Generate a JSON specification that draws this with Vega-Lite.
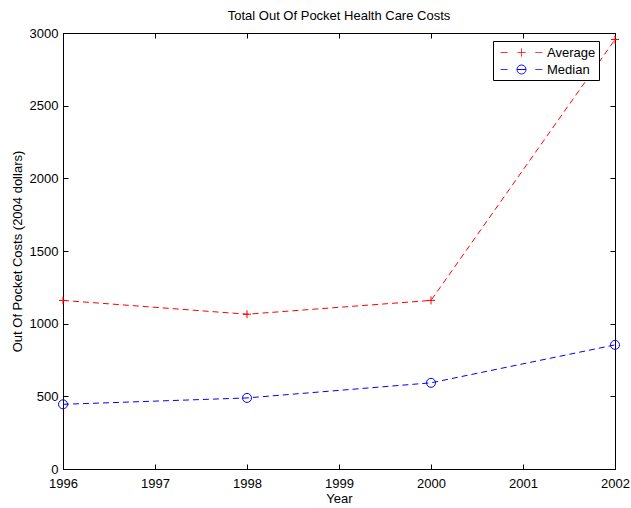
{
  "$schema": "https://vega.github.io/schema/vega-lite/v6.json",
  "width": 552,
  "height": 436,
  "autosize": "none",
  "padding": {"left": 63, "top": 33, "right": 16, "bottom": 39},
  "background": "white",
  "config": {
    "font": "Liberation Sans",
    "view": {"stroke": "black", "strokeWidth": 1},
    "axis": {
      "grid": false,
      "domainColor": "black",
      "tickColor": "black",
      "labelColor": "black",
      "titleColor": "black",
      "labelFontSize": 13,
      "titleFontSize": 13,
      "titleFontWeight": "normal",
      "labelFont": "Liberation Sans",
      "titleFont": "Liberation Sans",
      "labelFlush": false,
      "tickSize": -5
    }
  },
  "title": {
    "text": "Total Out Of Pocket Health Care Costs",
    "fontSize": 13,
    "fontWeight": "normal",
    "font": "Liberation Sans",
    "color": "black",
    "offset": 4
  },
  "data": {
    "values": [
      {"year": 1996, "series": "Average", "cost": 1160},
      {"year": 1998, "series": "Average", "cost": 1065},
      {"year": 2000, "series": "Average", "cost": 1160},
      {"year": 2002, "series": "Average", "cost": 2955},
      {"year": 1996, "series": "Median", "cost": 445},
      {"year": 1998, "series": "Median", "cost": 489},
      {"year": 2000, "series": "Median", "cost": 593},
      {"year": 2002, "series": "Median", "cost": 854}
    ]
  },
  "layer": [
    {
      "mark": {"type": "line", "strokeDash": [6, 4], "strokeWidth": 1},
      "encoding": {
        "x": {
          "field": "year", "type": "quantitative",
          "scale": {"domain": [1996, 2002], "nice": false, "zero": false},
          "axis": {"orient": "bottom", "values": [1996, 1997, 1998, 1999, 2000, 2001, 2002], "format": "d", "title": "Year", "labelPadding": 13, "titlePadding": 2}
        },
        "y": {
          "field": "cost", "type": "quantitative",
          "scale": {"domain": [0, 3000], "nice": false},
          "axis": {"orient": "left", "values": [0, 500, 1000, 1500, 2000, 2500, 3000], "format": "d", "title": "Out Of Pocket Costs (2004 dollars)", "labelPadding": 10, "titlePadding": 5}
        },
        "color": {
          "field": "series", "type": "nominal",
          "scale": {"domain": ["Average", "Median"], "range": ["#ff0000", "#0000ff"]},
          "legend": {
            "title": null,
            "orient": "none",
            "legendX": 430,
            "legendY": 8,
            "strokeColor": "black",
            "fillColor": "white",
            "padding": 3,
            "labelFontSize": 13,
            "labelFont": "Liberation Sans",
            "labelColor": "black",
            "symbolSize": 256,
            "symbolOffset": 17,
            "labelOffset": 17,
            "rowPadding": 1,
            "encode": {
              "symbols": {
                "update": {
                  "shape": {"signal": "datum.value === 'Average' ? 'M-2.6,0H-1.75M-0.5,0H0.5M0,-0.5V0.5M1.75,0H2.6' : 'M-2.6,0H-1.75M0.56,0A0.56,0.56 0 1,1 -0.56,0A0.56,0.56 0 1,1 0.56,0M-0.56,0H0.56M1.75,0H2.6'"},
                  "stroke": {"scale": "color", "field": "value"},
                  "fill": {"value": "transparent"},
                  "strokeWidth": {"value": 1},
                  "strokeDash": {"value": [1, 0]},
                  "opacity": {"value": 1},
                  "strokeOpacity": {"value": 1}
                }
              }
            }
          }
        }
      }
    },
    {
      "transform": [{"filter": "datum.series === 'Average'"}],
      "mark": {"type": "point", "filled": false, "strokeWidth": 1, "size": 64, "opacity": 1, "shape": "M-1,0H1M0,-1V1"},
      "encoding": {
        "x": {
          "field": "year", "type": "quantitative",
          "axis": {"orient": "top", "values": [1996, 1997, 1998, 1999, 2000, 2001, 2002], "labels": false, "title": null}
        },
        "y": {
          "field": "cost", "type": "quantitative",
          "axis": {"orient": "right", "values": [0, 500, 1000, 1500, 2000, 2500, 3000], "labels": false, "title": null}
        },
        "color": {"field": "series", "type": "nominal", "legend": null}
      }
    },
    {
      "transform": [{"filter": "datum.series === 'Median'"}],
      "mark": {"type": "point", "filled": false, "strokeWidth": 1, "size": 81, "opacity": 1, "shape": "circle"},
      "encoding": {
        "x": {"field": "year", "type": "quantitative", "axis": null},
        "y": {"field": "cost", "type": "quantitative", "axis": null},
        "color": {"field": "series", "type": "nominal", "legend": null}
      }
    }
  ],
  "resolve": {"axis": {"x": "independent", "y": "independent"}}
}
